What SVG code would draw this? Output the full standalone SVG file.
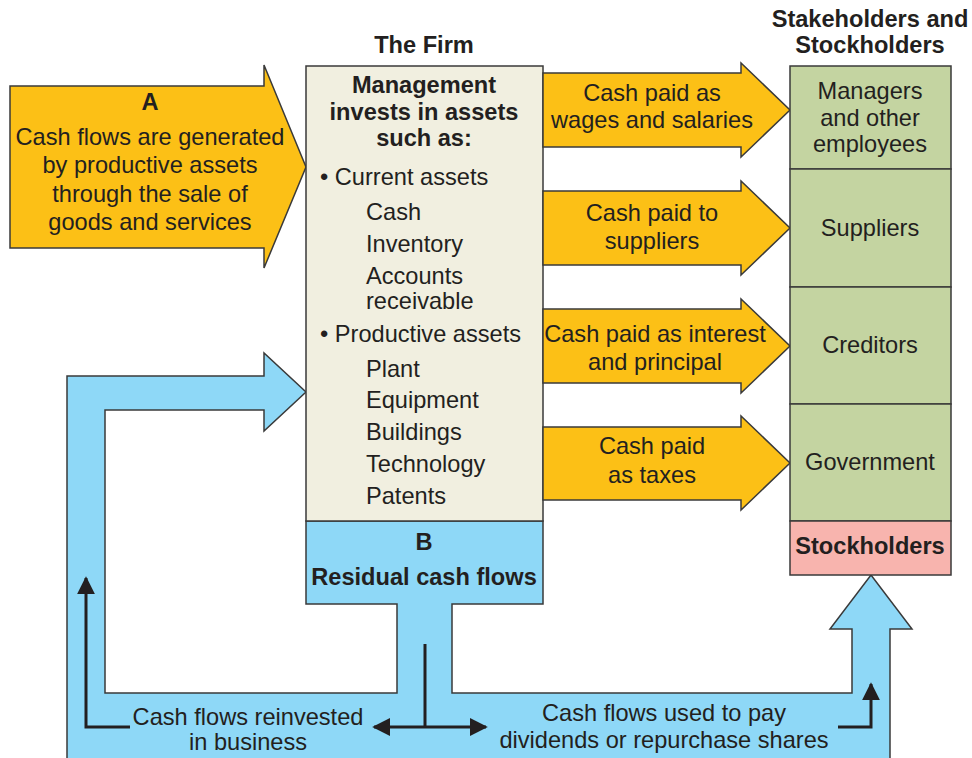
<svg xmlns="http://www.w3.org/2000/svg" width="972" height="758" viewBox="0 0 972 758">
<style>
text{font-family:"Liberation Sans",Arial,Helvetica,sans-serif;fill:#231f20;font-size:23.6px}
.c{text-anchor:middle}
.b{font-weight:bold}
.sh{stroke:#3a3a3a;stroke-width:1.5;stroke-linejoin:miter}
.or{fill:#fcc016}
.bl{fill:#8ed8f7}
.be{fill:#f1efe0}
.gr{fill:#c4d4a1}
.pk{fill:#f8b4ae}
.ln{fill:none;stroke:#231f20;stroke-width:3}
</style>
<defs>
<marker id="ah" viewBox="0 0 10 10" refX="9" refY="5" markerWidth="6" markerHeight="6" markerUnits="strokeWidth" orient="auto">
<path d="M0,0 L10,5 L0,10 Z" fill="#231f20"/>
</marker>
</defs>
<rect width="972" height="758" fill="#fff"/>

<g id="titles">
<text class="c b" x="870" y="27">Stakeholders and</text>
<text class="c b" x="870" y="53">Stockholders</text>
<text class="c b" x="424" y="53">The Firm</text>
</g>

<g id="arrowA">
<path class="sh or" d="M10,86 L264,86 L264,65 L306,167 L264,268 L264,248 L10,248 Z"/>
<text class="c b" x="150" y="110">A</text>
<text class="c" x="150" y="145">Cash flows are generated</text>
<text class="c" x="150" y="173">by productive assets</text>
<text class="c" x="150" y="202">through the sale of</text>
<text class="c" x="150" y="230">goods and services</text>
</g>

<g id="residual-flow">
<path class="sh bl" d="M67,762 L67,376 L264,376 L264,353 L306,392 L264,431 L264,410 L105,410 L105,693 L397,693 L397,604 L306,604 L306,521 L543,521 L543,604 L452,604 L452,693 L852,693 L852,629 L830,629 L871,575 L912,629 L890,629 L890,762 Z"/>
<text class="c b" x="424" y="550">B</text>
<text class="c b" x="424" y="585">Residual cash flows</text>
<text class="c" x="248" y="725">Cash flows reinvested</text>
<text class="c" x="248" y="750">in business</text>
<text class="c" x="664" y="721">Cash flows used to pay</text>
<text class="c" x="664" y="748">dividends or repurchase shares</text>
</g>

<g id="firm">
<rect class="sh be" x="306" y="66" width="237" height="455"/>
<text class="c b" x="424" y="93">Management</text>
<text class="c b" x="424" y="120">invests in assets</text>
<text class="c b" x="424" y="146">such as:</text>
<text x="320" y="185">• Current assets</text>
<text x="366" y="220">Cash</text>
<text x="366" y="252">Inventory</text>
<text x="366" y="284">Accounts</text>
<text x="366" y="309">receivable</text>
<text x="320" y="342">• Productive assets</text>
<text x="366" y="377">Plant</text>
<text x="366" y="408">Equipment</text>
<text x="366" y="440">Buildings</text>
<text x="366" y="472">Technology</text>
<text x="366" y="504">Patents</text>
</g>

<g id="pay-wages">
<path class="sh or" d="M543,73 L741,73 L741,63 L790,110 L741,157 L741,147 L543,147 Z"/>
<text class="c" x="652" y="101">Cash paid as</text>
<text class="c" x="652" y="128">wages and salaries</text>
</g>
<g id="pay-suppliers">
<path class="sh or" d="M543,191 L741,191 L741,181 L790,228 L741,275 L741,265 L543,265 Z"/>
<text class="c" x="652" y="221">Cash paid to</text>
<text class="c" x="652" y="249">suppliers</text>
</g>
<g id="pay-interest">
<path class="sh or" d="M543,309 L741,309 L741,299 L790,346 L741,393 L741,383 L543,383 Z"/>
<text class="c" x="655" y="342">Cash paid as interest</text>
<text class="c" x="655" y="370">and principal</text>
</g>
<g id="pay-taxes">
<path class="sh or" d="M543,427 L741,427 L741,416 L790,463 L741,510 L741,500 L543,500 Z"/>
<text class="c" x="652" y="454">Cash paid</text>
<text class="c" x="652" y="483">as taxes</text>
</g>

<g id="managers">
<rect class="sh gr" x="790" y="66" width="161" height="103"/>
<text class="c" x="870" y="99">Managers</text>
<text class="c" x="870" y="126">and other</text>
<text class="c" x="870" y="152">employees</text>
</g>
<g id="suppliers">
<rect class="sh gr" x="790" y="169" width="161" height="118"/>
<text class="c" x="870" y="236">Suppliers</text>
</g>
<g id="creditors">
<rect class="sh gr" x="790" y="287" width="161" height="117"/>
<text class="c" x="870" y="353">Creditors</text>
</g>
<g id="government">
<rect class="sh gr" x="790" y="404" width="161" height="117"/>
<text class="c" x="870" y="470">Government</text>
</g>
<g id="stockholders">
<rect class="sh pk" x="790" y="521" width="161" height="54"/>
<text class="c b" x="870" y="554">Stockholders</text>
</g>

<g id="connectors">
<path class="ln" d="M130,727 L86,727 L86,578" marker-end="url(#ah)"/>
<path class="ln" d="M425,644 L425,727"/>
<path class="ln" d="M425,727 L374,727" marker-end="url(#ah)"/>
<path class="ln" d="M425,727 L486,727" marker-end="url(#ah)"/>
<path class="ln" d="M838,727 L871,727 L871,684" marker-end="url(#ah)"/>
</g>
</svg>
